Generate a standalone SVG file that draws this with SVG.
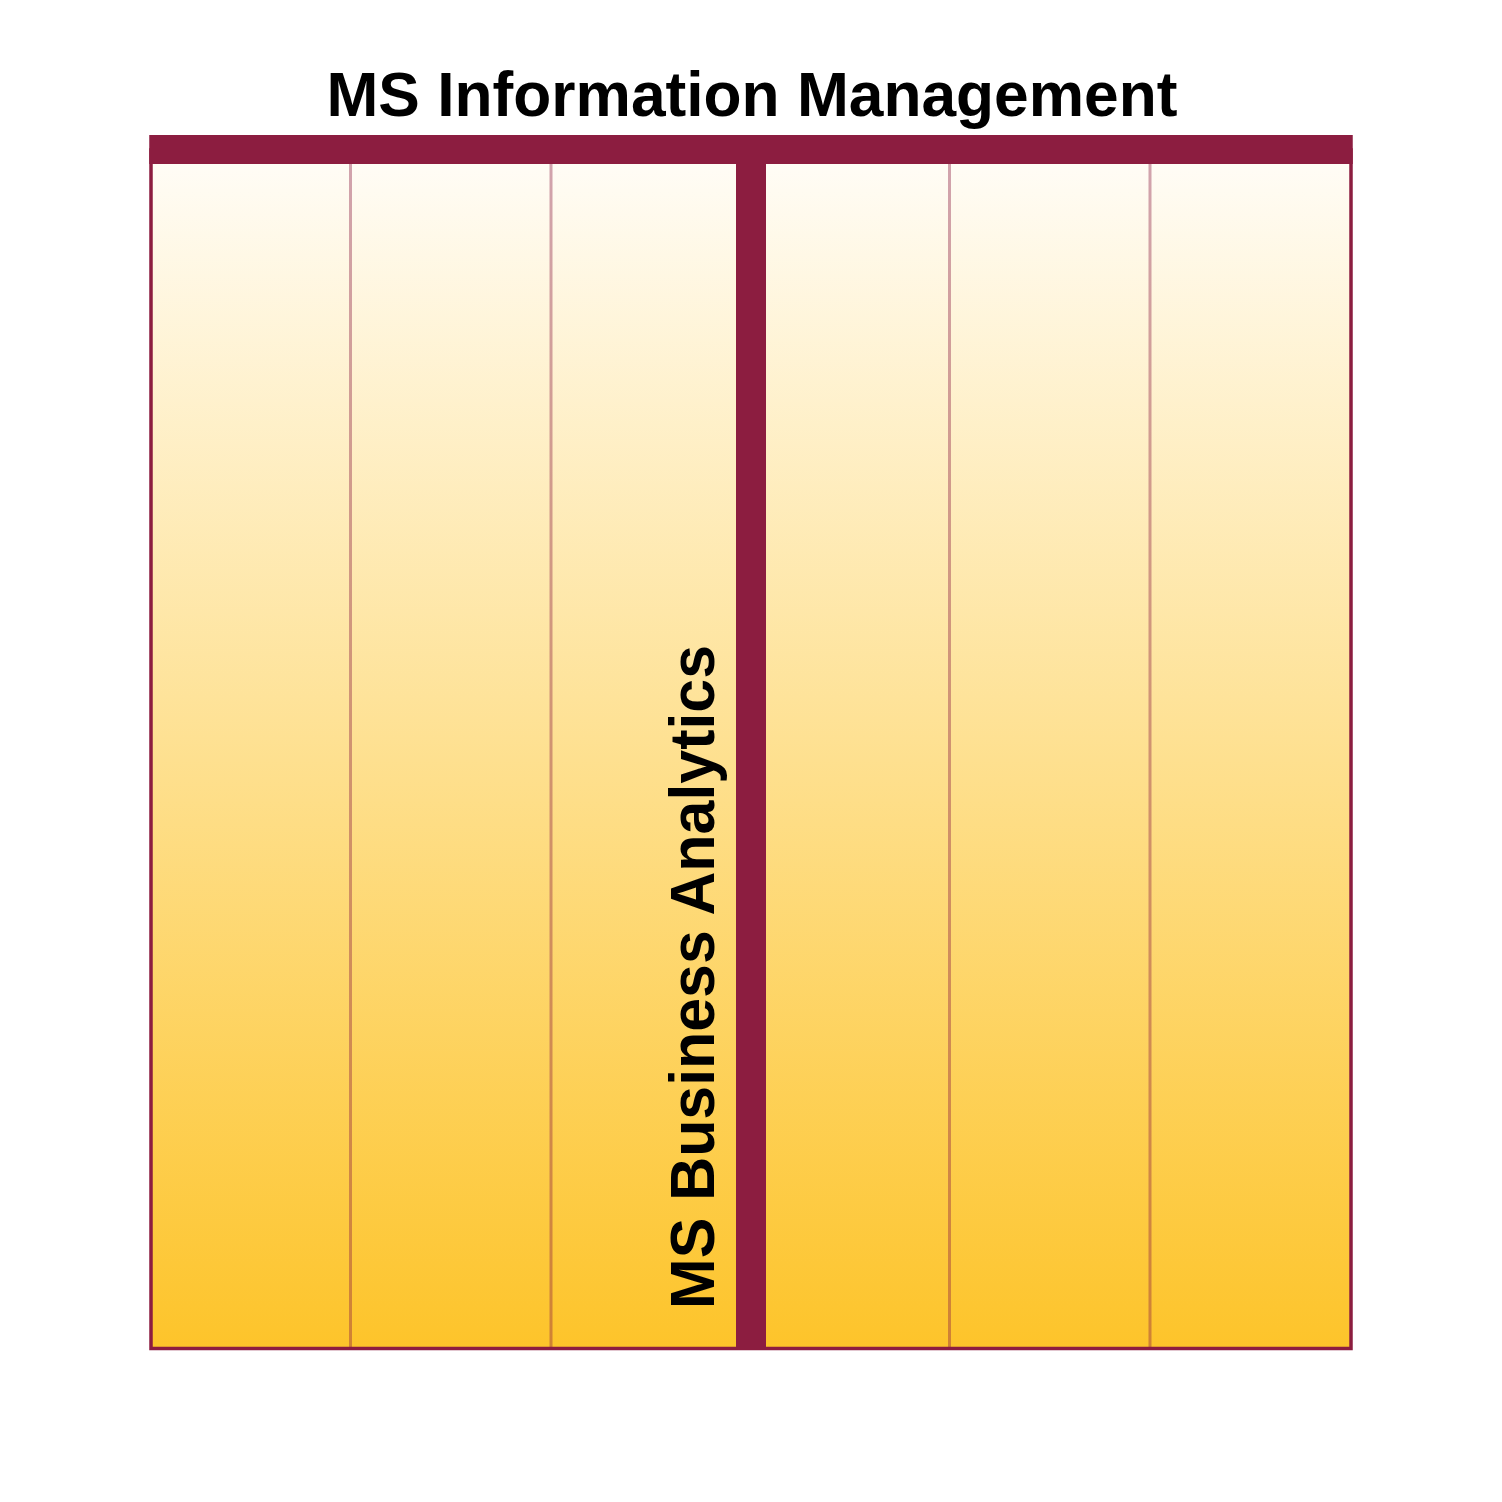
<svg xmlns="http://www.w3.org/2000/svg" width="1502" height="1502" viewBox="0 0 1502 1502">
  <style>
    .lbl { font-family: "Liberation Sans", Arial, sans-serif; font-weight: bold; fill: #000; }
    .div { stroke: #8c1d40; stroke-opacity: 0.4; stroke-width: 3; }
  </style>
  <defs>
    <linearGradient id="gold" x1="0" y1="0" x2="0" y2="1">
      <stop offset="0" stop-color="#fffdf8"/>
      <stop offset="1" stop-color="#fdc42a"/>
    </linearGradient>
  </defs>
  <rect width="1502" height="1502" fill="#fff"/>
  <g id="frame">
    <rect x="151" y="150" width="1200" height="1198.5" fill="url(#gold)" stroke="#8c1d40" stroke-width="3.5"/>
    <rect x="149.25" y="135" width="1203.5" height="29" fill="#8c1d40"/>
    <rect x="736" y="135" width="30" height="1215" fill="#8c1d40"/>
  </g>
  <g id="connectors">
    <line class="div" x1="350.5" y1="164" x2="350.5" y2="1347"/>
    <line class="div" x1="551" y1="164" x2="551" y2="1347"/>
    <line class="div" x1="949.5" y1="164" x2="949.5" y2="1347"/>
    <line class="div" x1="1150" y1="164" x2="1150" y2="1347"/>
  </g>
  <g id="title">
    <text class="lbl" x="752" y="116" font-size="63" text-anchor="middle" textLength="851" lengthAdjust="spacingAndGlyphs">MS Information Management</text>
  </g>
  <g id="ms-business-analytics">
    <text class="lbl" transform="translate(714 1309) rotate(-90)" x="0" y="0" font-size="63" textLength="664" lengthAdjust="spacingAndGlyphs">MS Business Analytics</text>
  </g>
</svg>
